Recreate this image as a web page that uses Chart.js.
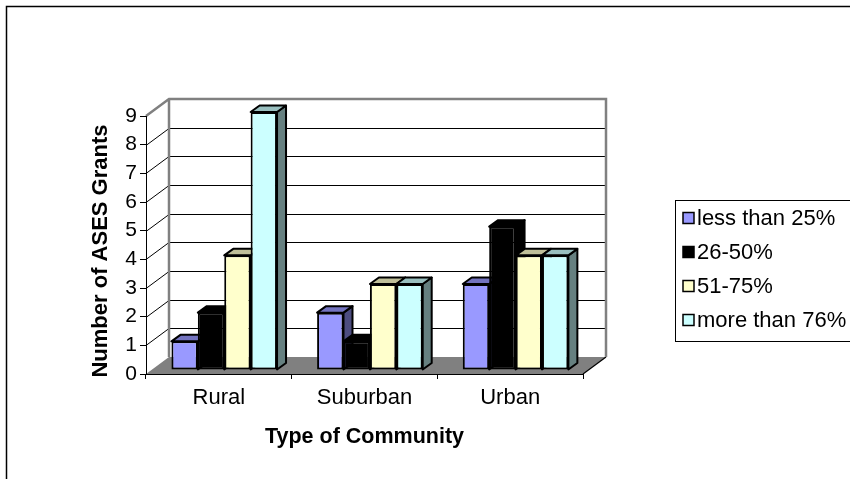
<!DOCTYPE html>
<html>
<head>
<meta charset="utf-8">
<title>ASES Grants by Type of Community</title>
<script src="https://cdn.jsdelivr.net/npm/chart.js@4.4.1/dist/chart.umd.min.js"></script>
<style>
  html, body { margin: 0; padding: 0; background: #ffffff; }
  #wrap { width: 850px; height: 479px; }
</style>
</head>
<body>
<div id="wrap"><canvas id="chart" width="850" height="479"></canvas></div>
<script>
// ---- data ----
const categories = ['Rural', 'Suburban', 'Urban'];
const seriesLabels = ['less than 25%', '26-50%', '51-75%', 'more than 76%'];
const lessThan25 = [1, 2, 3];
const from26to50 = [2, 1, 5];
const from51to75 = [4, 3, 4];
const moreThan76 = [9, 3, 4];
const yAxisMax = 9;
const xAxisTitle = 'Type of Community';
const yAxisTitle = 'Number of ASES Grants';

// ---- styles ----
const FONT = "'Liberation Sans', Arial, sans-serif";
const faceColors = ['#9999FF', '#000000', '#FFFFCC', '#CCFFFF'];
const topColors  = ['#7373BF', '#000000', '#BFBF99', '#99BFBF'];
const sideColors = ['#4D4D80', '#000000', '#808066', '#668080'];
const WALL_DEPTH = { dx: 23, dy: -17 };   // front axis plane -> back wall
const BAR_SHIFT  = { dx: 5.4, dy: -4 };   // columns sit slightly behind the axis plane
const BAR_DEPTH  = { dx: 9, dy: -6.5 };   // thickness of each column

const seriesValues = [lessThan25, from26to50, from51to75, moreThan76];

// walls, floor and gridlines of the 3-D box
const boxPlugin = {
  id: 'box3d',
  beforeDraw(chart) {
    const { ctx, chartArea: a, scales: { y } } = chart;
    const dx = WALL_DEPTH.dx, dy = WALL_DEPTH.dy;
    ctx.save();
    // gridlines across the side wall and back wall
    ctx.strokeStyle = '#000000';
    ctx.lineWidth = 1;
    for (let v = 1; v < yAxisMax; v++) {
      const py = Math.round(y.getPixelForValue(v)) + 0.5;
      ctx.beginPath();
      ctx.moveTo(a.left, py);
      ctx.lineTo(a.left + dx, py + dy);
      ctx.lineTo(a.right + dx, py + dy);
      ctx.stroke();
    }
    // floor
    ctx.fillStyle = '#808080';
    ctx.beginPath();
    ctx.moveTo(a.left, a.bottom);
    ctx.lineTo(a.right, a.bottom);
    ctx.lineTo(a.right + dx, a.bottom + dy);
    ctx.lineTo(a.left + dx, a.bottom + dy);
    ctx.closePath();
    ctx.fill();
    ctx.strokeStyle = '#000000';
    ctx.lineWidth = 1.2;
    ctx.beginPath();
    ctx.moveTo(a.right, a.bottom);
    ctx.lineTo(a.right + dx, a.bottom + dy);
    ctx.stroke();
    // wall edges
    ctx.strokeStyle = '#808080';
    ctx.lineWidth = 2.5;
    ctx.beginPath();
    ctx.moveTo(a.left, a.top);
    ctx.lineTo(a.left + dx, a.top + dy);
    ctx.lineTo(a.right + dx, a.top + dy);
    ctx.lineTo(a.right + dx, a.bottom + dy);
    ctx.moveTo(a.left + dx, a.top + dy);
    ctx.lineTo(a.left + dx, a.bottom + dy);
    ctx.stroke();
    ctx.restore();
  }
};

// tops and right-hand sides of the columns; fronts are drawn by the bar controller
function fillPoly(ctx, pts, color) {
  ctx.beginPath();
  ctx.moveTo(pts[0][0], pts[0][1]);
  for (let k = 1; k < pts.length; k++) ctx.lineTo(pts[k][0], pts[k][1]);
  ctx.closePath();
  ctx.fillStyle = color;
  ctx.fill();
  ctx.stroke();
}

const columnPlugin = {
  id: 'columns3d',
  beforeDatasetsDraw(chart) {
    const ctx = chart.ctx;
    const metas = chart.getSortedVisibleDatasetMetas();
    const dx = BAR_DEPTH.dx, dy = BAR_DEPTH.dy;
    ctx.save();
    ctx.translate(BAR_SHIFT.dx, BAR_SHIFT.dy);
    ctx.strokeStyle = '#000000';
    ctx.lineWidth = 2;
    ctx.lineJoin = 'round';
    for (let i = 0; i < categories.length; i++) {
      metas.forEach(meta => {
        const bar = meta.data[i];
        const { x, y, base, width } = bar.getProps(['x', 'y', 'base', 'width'], true);
        const l = x - width / 2, r = x + width / 2;
        const s = meta.index;
        fillPoly(ctx, [[r, y], [r + dx, y + dy], [r + dx, base + dy], [r, base]], sideColors[s]);
        fillPoly(ctx, [[l, y], [r, y], [r + dx, y + dy], [l + dx, y + dy]], topColors[s]);
      });
    }
    ctx.restore();
  },
  beforeDatasetDraw(chart) {
    chart.ctx.save();
    chart.ctx.translate(BAR_SHIFT.dx, BAR_SHIFT.dy);
  },
  afterDatasetDraw(chart) {
    chart.ctx.restore();
  }
};

// legend box, vertical axis title and outer frame
const decorPlugin = {
  id: 'decor',
  afterDraw(chart) {
    const { ctx } = chart;
    ctx.save();
    // outer frame
    ctx.strokeStyle = '#000000';
    ctx.lineWidth = 1.5;
    ctx.beginPath();
    ctx.moveTo(6.5, 479);
    ctx.lineTo(6.5, 6.5);
    ctx.lineTo(850, 6.5);
    ctx.stroke();

    // legend
    const lx = 675.5, ly = 200.5, lh = 141, step = 34, firstY = 218;
    ctx.lineWidth = 1;
    ctx.strokeRect(lx, ly, 200, lh);
    ctx.font = '22px ' + FONT;
    ctx.textAlign = 'left';
    ctx.textBaseline = 'middle';
    chart.data.datasets.forEach((ds, i) => {
      const cy = firstY + i * step;
      ctx.fillStyle = ds.backgroundColor;
      ctx.fillRect(683, cy - 5.5, 11, 11);
      ctx.lineWidth = 1.5;
      ctx.strokeStyle = '#000000';
      ctx.strokeRect(683, cy - 5.5, 11, 11);
      ctx.fillStyle = '#000000';
      ctx.fillText(ds.label, 697, cy + 1);
    });

    // vertical axis title
    ctx.translate(100.5, 251);
    ctx.rotate(-Math.PI / 2);
    ctx.font = 'bold 22px ' + FONT;
    ctx.textAlign = 'center';
    ctx.textBaseline = 'middle';
    ctx.fillStyle = '#000000';
    ctx.fillText(yAxisTitle, 0, 0);
    ctx.restore();
  }
};

new Chart(document.getElementById('chart'), {
  type: 'bar',
  data: {
    labels: categories,
    datasets: seriesValues.map((values, i) => ({
      label: seriesLabels[i],
      data: values,
      backgroundColor: faceColors[i],
      borderColor: '#000000',
      borderWidth: 2,
      borderSkipped: false,
      categoryPercentage: 0.725,
      barPercentage: 1.0
    }))
  },
  options: {
    responsive: false,
    devicePixelRatio: 1,
    animation: false,
    layout: { padding: { left: 0, top: 116, right: 267, bottom: 0 } },
    plugins: {
      legend: { display: false },
      tooltip: { enabled: false }
    },
    scales: {
      x: {
        offset: true,
        grid: { offset: true, drawOnChartArea: false, drawTicks: true, tickLength: 5, color: '#000000' },
        border: { display: true, color: '#000000', width: 1 },
        ticks: { color: '#000000', padding: 5.8, font: { family: FONT, size: 22 }, maxRotation: 0 },
        title: {
          display: true, text: xAxisTitle, color: '#000000',
          font: { family: FONT, size: 21.5, weight: 'bold' },
          padding: { top: 0, bottom: 28.6 }
        },
        afterFit(scale) { scale.height = 105; }
      },
      y: {
        min: 0,
        max: yAxisMax,
        grid: { drawOnChartArea: false, drawTicks: true, tickLength: 6, color: '#000000' },
        border: { display: true, color: '#000000', width: 1 },
        ticks: { stepSize: 1, color: '#000000', padding: 3, font: { family: FONT, size: 21 } },
        afterFit(scale) { scale.width = 146; }
      }
    }
  },
  plugins: [boxPlugin, columnPlugin, decorPlugin]
});
</script>
</body>
</html>
